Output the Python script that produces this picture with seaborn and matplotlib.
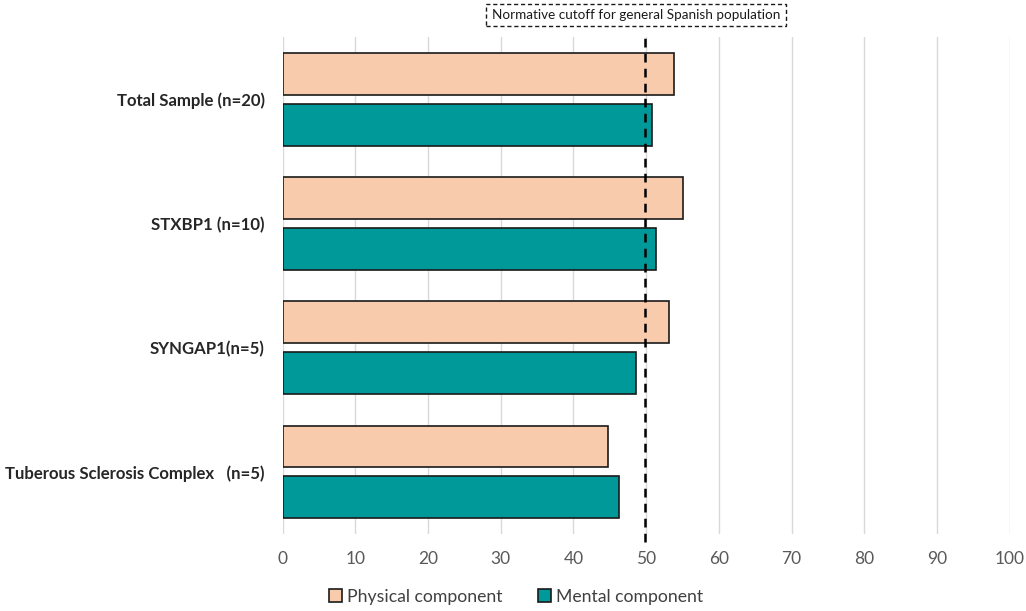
import pandas as pd
import seaborn as sns
import matplotlib.pyplot as plt

groups = ["Total Sample (n=20)", "STXBP1 (n=10)", "SYNGAP1(n=5)",
          "Tuberous Sclerosis Complex   (n=5)"]
physical = [53.9, 55.1, 53.1, 44.7]
mental = [50.8, 51.4, 48.6, 46.3]
components = ["Physical component", "Mental component"]
cutoff = 49.8
cutoff_label = "Normative cutoff for general Spanish population"

df = pd.DataFrame({
    "group": groups * 2,
    "score": physical + mental,
    "component": [components[0]] * len(groups) + [components[1]] * len(groups),
})

sns.set_style("white")
plt.rcParams["font.family"] = ["Lato", "DejaVu Sans"]

fig = plt.figure(figsize=(10.26, 6.11), dpi=100)
ax = fig.add_axes([0.2755, 0.126, 0.7085, 0.8134])

sns.barplot(data=df, x="score", y="group", hue="component", orient="y",
            order=groups, hue_order=components,
            palette=["#F8CBAD", "#009999"], width=0.82, gap=0.18,
            edgecolor="#1a1a1a", linewidth=1.2, saturation=1, ax=ax)

ax.set_xlim(0, 100)
ax.set_ylim(3.5, -0.5)
ax.set_xticks(range(0, 101, 10))
ax.grid(axis="x", color="#d9d9d9", linewidth=1)
ax.set_axisbelow(True)
for s in ax.spines.values():
    s.set_visible(False)
ax.set_xlabel("")
ax.set_ylabel("")
ax.tick_params(axis="x", length=0, pad=12, labelsize=12.5, labelcolor="#595959")
ax.tick_params(axis="y", length=0, pad=13, labelsize=12.1)
for lab in ax.get_yticklabels():
    lab.set_fontweight("bold")

ax.axvline(cutoff, ymin=-0.016, ymax=1.0, color="black", linewidth=1.8,
           linestyle=(0, (3.5, 2.5)), clip_on=False, zorder=5)

fig.text(636 / 1026, 1 - 15 / 611, cutoff_label, ha="center", va="center",
         fontsize=9.7, color="#1a1a1a",
         bbox=dict(boxstyle="square,pad=0.4", facecolor="white",
                   edgecolor="#1a1a1a", linestyle=(0, (3, 2)), linewidth=1))

handles, labels = ax.get_legend_handles_labels()
ax.get_legend().remove()
fig.legend(handles, labels, loc="center", bbox_to_anchor=(0.503, 1 - 597 / 611),
           ncol=2, frameon=False, fontsize=12.7, handlelength=0.75,
           handleheight=0.75, handletextpad=0.3, columnspacing=2.0,
           labelcolor="#404040")

fig.savefig("out.png", dpi=100)
